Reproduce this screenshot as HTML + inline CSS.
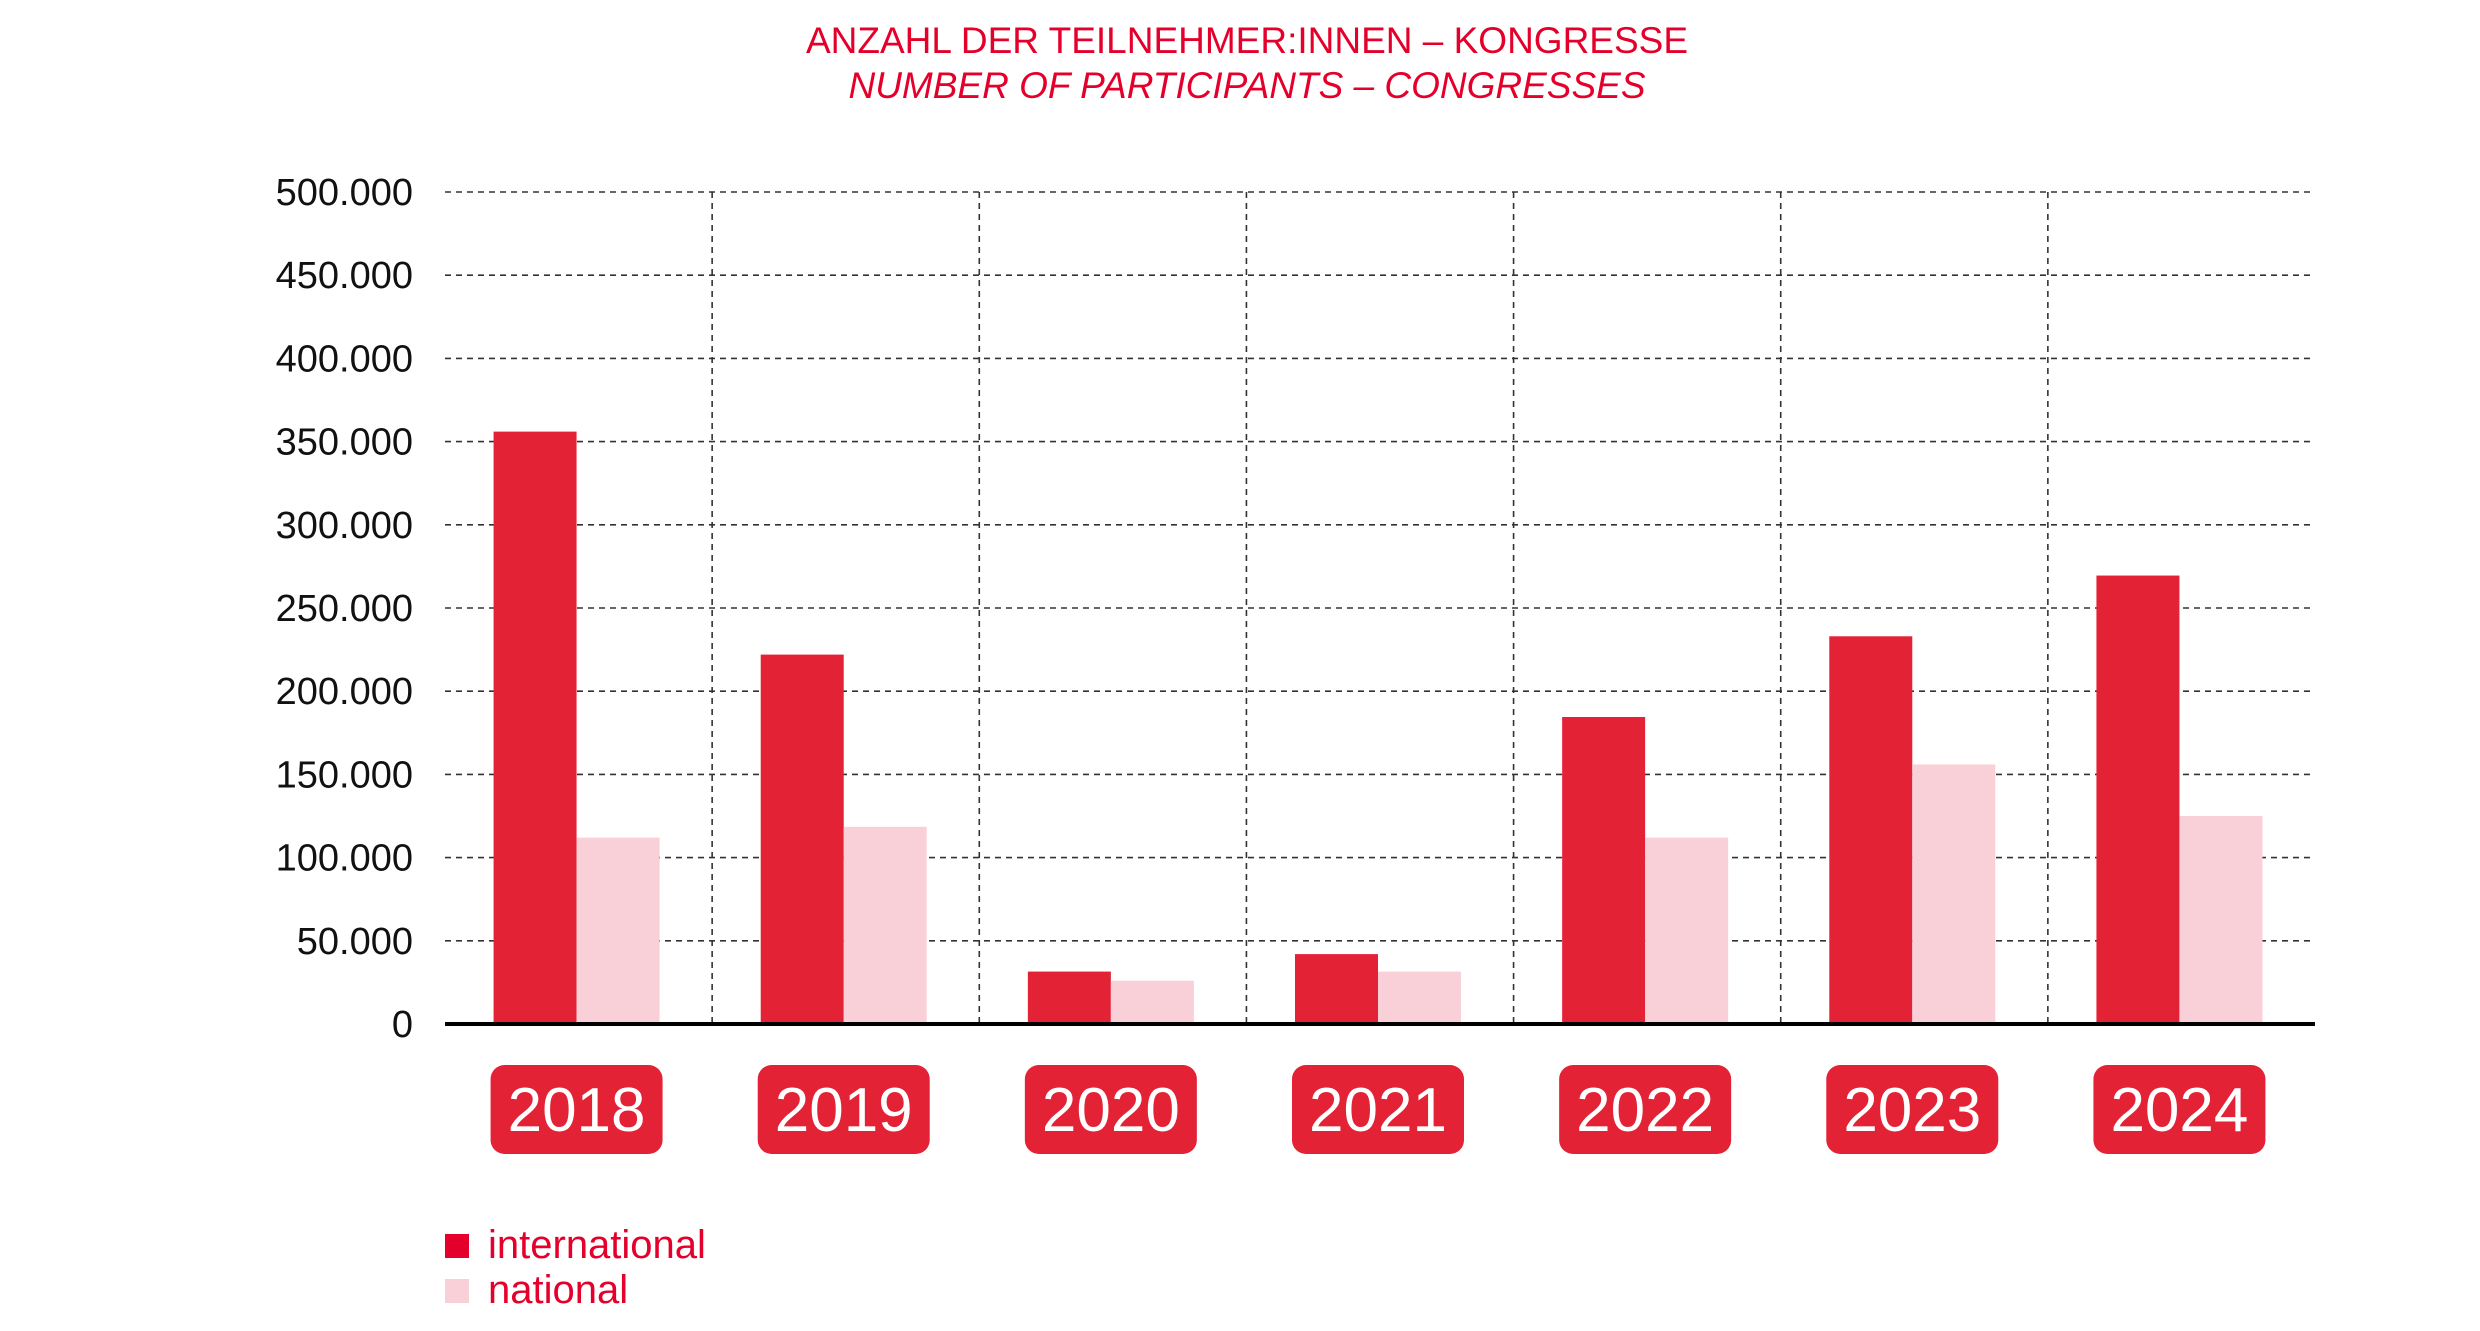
<!DOCTYPE html>
<html><head><meta charset="utf-8"><style>
html,body{margin:0;padding:0;background:#fff;}
body{width:2480px;height:1326px;overflow:hidden;font-family:"Liberation Sans",sans-serif;}
</style></head><body>
<svg id="chart" width="2480" height="1326" viewBox="0 0 2480 1326" xmlns="http://www.w3.org/2000/svg">
<text x="1247" y="53" text-anchor="middle" font-family="Liberation Sans, sans-serif" font-size="37" fill="#e4002b">ANZAHL DER TEILNEHMER:INNEN – KONGRESSE</text>
<text x="1247" y="98" text-anchor="middle" font-family="Liberation Sans, sans-serif" font-size="37" font-style="italic" fill="#e4002b">NUMBER OF PARTICIPANTS – CONGRESSES</text>
<g id="grid"></g>
<g id="bars"></g>
<g id="labels"></g>
<g>
<rect x="445" y="1234" width="24" height="24" fill="#e4002b"/>
<text x="488" y="1258" font-size="40" fill="#e4002b" font-family="Liberation Sans, sans-serif">international</text>
<rect x="445" y="1279" width="24" height="24" fill="#f9d0d7"/>
<text x="488" y="1303" font-size="40" fill="#e4002b" font-family="Liberation Sans, sans-serif">national</text>
</g>
</svg>
<script>
const categories = ["2018","2019","2020","2021","2022","2023","2024"];
const international = [356000,222000,31500,42000,184500,233000,269500];
const national = [112000,118500,26000,31500,112000,156000,125000];
const yTicks = [0,50000,100000,150000,200000,250000,300000,350000,400000,450000,500000];
const yTickLabels = ["0","50.000","100.000","150.000","200.000","250.000","300.000","350.000","400.000","450.000","500.000"];

const NS="http://www.w3.org/2000/svg";
const pLeft=445, pRight=2315, pTop=192, pBottom=1024, yMax=500000;
const groupW=(pRight-pLeft)/categories.length;
const yScale=v=>pBottom-(v/yMax)*(pBottom-pTop);
const xGroup=i=>pLeft+i*groupW;
function mk(tag,attrs,parent){const e=document.createElementNS(NS,tag);for(const k in attrs)e.setAttribute(k,attrs[k]);parent.appendChild(e);return e;}
const gGrid=document.getElementById('grid'),gBars=document.getElementById('bars'),gLabels=document.getElementById('labels');
yTicks.forEach((t,i)=>{
  if(t>0){const l=mk('line',{x1:pLeft,x2:pRight,y1:yScale(t),y2:yScale(t),stroke:'#333','stroke-width':1.6,'stroke-dasharray':'6,5'},gGrid);
  
  }
  const tx=mk('text',{x:413,y:yScale(t)+13,'text-anchor':'end','font-size':38,fill:'#111','font-family':'Liberation Sans, sans-serif'},gGrid);
  tx.textContent=yTickLabels[i];
  
  
});
for(let i=1;i<categories.length;i++){
  const l=mk('line',{x1:xGroup(i),x2:xGroup(i),y1:pTop,y2:pBottom,stroke:'#333','stroke-width':1.6,'stroke-dasharray':'6,5'},gGrid);
  
  
}
const bw=83;
categories.forEach((c,i)=>{
  const cx=xGroup(i)+groupW/2-2;
  const b1=mk('rect',{x:cx-bw,y:yScale(international[i]),width:bw,height:pBottom-yScale(international[i]),fill:'#e32236'},gBars);
  
  
  const b2=mk('rect',{x:cx,y:yScale(national[i]),width:bw,height:pBottom-yScale(national[i]),fill:'#f9d0d7'},gBars);
  
  
  const r=mk('rect',{x:cx-86,y:1065,width:172,height:89,rx:14,fill:'#e32236'},gLabels);
  
  
  const t=mk('text',{x:cx,y:1131,'text-anchor':'middle','font-size':62,fill:'#fff','font-family':'Liberation Sans, sans-serif'},gLabels);
  t.textContent=c;
  
  
});
const ax=mk('line',{x1:pLeft,x2:pRight,y1:pBottom,y2:pBottom,stroke:'#000','stroke-width':4},gBars);


</script>
</body></html>
